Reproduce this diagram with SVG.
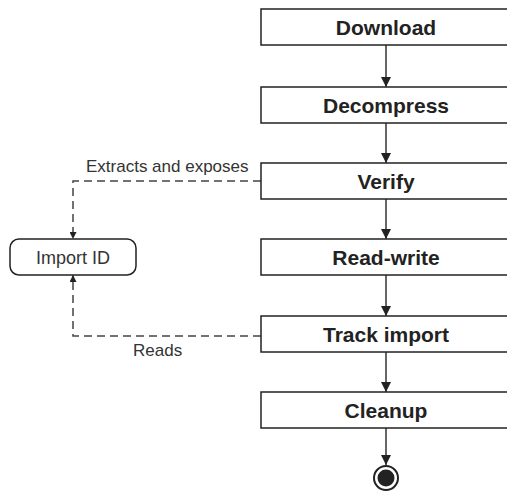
<svg xmlns="http://www.w3.org/2000/svg" width="507" height="492" viewBox="0 0 507 492">
<defs>
<style>
.box{fill:#fff;stroke:#222;stroke-width:1.5}
.t{font-family:"Liberation Sans",Arial,sans-serif;font-weight:bold;font-size:21px;fill:#222;text-anchor:middle}
.l{font-family:"Liberation Sans",Arial,sans-serif;font-size:17px;fill:#333}
.c{fill:none;stroke:#333;stroke-width:1.5}
.d{fill:none;stroke:#444;stroke-width:1.5;stroke-dasharray:8,5}
</style>
<marker id="ah" viewBox="0 0 10 10" refX="10" refY="5" markerWidth="10" markerHeight="10" markerUnits="userSpaceOnUse" orient="auto">
<path d="M0,0 L10,5 L0,10 Z" fill="#222"/>
</marker>
<marker id="ahs" viewBox="0 0 10 10" refX="10" refY="5" markerWidth="8" markerHeight="7" markerUnits="userSpaceOnUse" orient="auto">
<path d="M0,0 L10,5 L0,10 Z" fill="#222"/>
</marker>
</defs>
<g id="connectors">
<line class="c" x1="386" y1="45" x2="386" y2="87" marker-end="url(#ah)"/>
<line class="c" x1="386" y1="123" x2="386" y2="163" marker-end="url(#ah)"/>
<line class="c" x1="386" y1="199" x2="386" y2="239" marker-end="url(#ah)"/>
<line class="c" x1="386" y1="275" x2="386" y2="316" marker-end="url(#ah)"/>
<line class="c" x1="386" y1="352" x2="386" y2="392" marker-end="url(#ah)"/>
<line class="c" x1="386" y1="428" x2="386" y2="465" marker-end="url(#ah)"/>
<polyline class="d" points="261,181 73,181 73,239" marker-end="url(#ahs)"/>
<polyline class="d" points="261,336 73,336 73,275" marker-end="url(#ahs)"/>
<text class="l" x="86" y="172">Extracts and exposes</text>
<text class="l" x="133" y="356">Reads</text>
</g>
<g id="download"><rect class="box" x="261" y="9" width="270" height="36"/><text class="t" x="386" y="34.5">Download</text></g>
<g id="decompress"><rect class="box" x="261" y="87" width="270" height="36"/><text class="t" x="386" y="112.5">Decompress</text></g>
<g id="verify"><rect class="box" x="261" y="163" width="270" height="36"/><text class="t" x="386" y="188.5">Verify</text></g>
<g id="readwrite"><rect class="box" x="261" y="239" width="270" height="36"/><text class="t" x="386" y="264.5">Read-write</text></g>
<g id="trackimport"><rect class="box" x="261" y="316" width="270" height="36"/><text class="t" x="386" y="341.5">Track import</text></g>
<g id="cleanup"><rect class="box" x="261" y="392" width="270" height="36"/><text class="t" x="386" y="417.5">Cleanup</text></g>
<g id="importid"><rect class="box" x="10" y="239" width="126" height="36" rx="9"/><text class="l" x="73" y="263.5" text-anchor="middle" style="font-size:18px">Import ID</text></g>
<g id="end"><circle cx="386" cy="478" r="12" fill="#fff" stroke="#222" stroke-width="2"/><circle cx="386" cy="478" r="8.5" fill="#222"/></g>
</svg>
